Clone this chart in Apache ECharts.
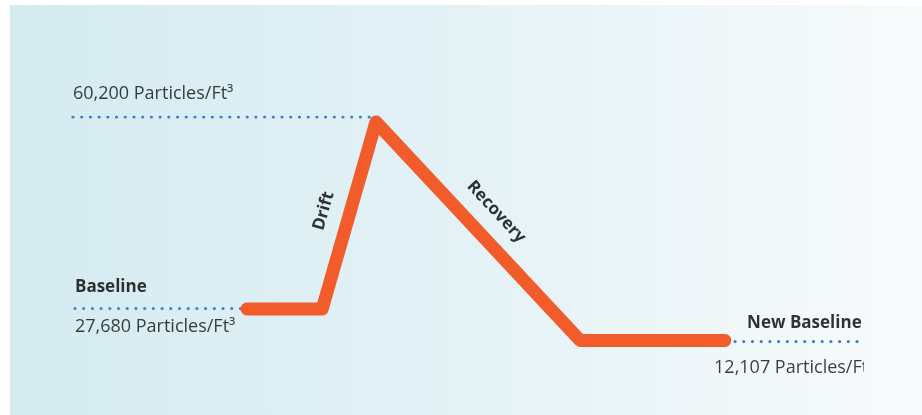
<!DOCTYPE html>
<html>
<head>
<meta charset="utf-8">
<script src="https://cdn.jsdelivr.net/npm/echarts@6/dist/echarts.min.js"></script>
<style>
  html, body { margin: 0; padding: 0; background: #fff; }
  #bg {
    position: absolute; left: 10px; top: 5px; width: 912px; height: 410px;
    background: linear-gradient(to right, #d4ebf0 0%, #e4f2f6 50%, #f8fbfc 100%);
  }
  #main { position: absolute; left: 0; top: 0; width: 864px; height: 415px; }
</style>
</head>
<body>
<div id="bg"></div>
<div id="main"></div>
<script>
// schematic time (0-100) and level (0-100)
const phaseX = [22.0, 31.5, 38.3, 64.1, 82.4];
const phaseLevel = [14.7, 14.7, 97.8, 0.7, 0.7];

const peakLineX = [0, 38.6];
const peakLevel = 100;
const baseLineX = [0.25, 21.2];
const baseLevel = 14.9;
const newBaseLineX = [83.7, 100];
const newBaseLevel = 0.2;

const particleCounts = ['60,200', '27,680', '12,107'];
const unitText = 'Particles/Ft³';
const levelNames = ['Baseline', 'New Baseline'];
const phaseNames = ['Drift', 'Recovery'];
const phaseLabelPos = [[31.7, 58.2], [53.5, 57.8]];

const FONT = 'Open Sans';
const orange = '#f25c2a';
const dotBlue = '#3f80cb';

function dotted(xs, y) {
    return {
        type: 'line',
        data: xs.map(function (x) { return [x, y]; }),
        symbol: 'none',
        z: 1,
        lineStyle: { color: dotBlue, width: 3.2, type: [0.01, 8.7], cap: 'round' }
    };
}

function textItem(x, y, text, opts) {
    return {
        value: [x, y],
        label: Object.assign({
            show: true,
            position: 'inside',
            formatter: text,
            color: '#0d0d0d',
            fontFamily: FONT,
            fontSize: 18,
            align: 'left',
            verticalAlign: 'middle'
        }, opts)
    };
}

const boldText = { fontWeight: 'bold', fontSize: 17, color: '#000' };

const labelData = [
    textItem(peakLineX[0], peakLevel, particleCounts[0] + ' ' + unitText, { offset: [0, -23] }),
    textItem(baseLineX[0], baseLevel, levelNames[0], Object.assign({ offset: [0, -21] }, boldText)),
    textItem(baseLineX[0], baseLevel, particleCounts[1] + ' ' + unitText, { offset: [0, 18] }),
    textItem(newBaseLineX[0], newBaseLevel, levelNames[1], Object.assign({ offset: [12, -18] }, boldText)),
    textItem(newBaseLineX[0], newBaseLevel, particleCounts[2] + ' ' + unitText, { offset: [-21, 26] }),
    textItem(phaseLabelPos[0][0], phaseLabelPos[0][1], phaseNames[0], Object.assign({ align: 'center', rotate: 74 }, boldText)),
    textItem(phaseLabelPos[1][0], phaseLabelPos[1][1], phaseNames[1], Object.assign({ align: 'center', rotate: -47 }, boldText))
];

const chart = echarts.init(document.getElementById('main'));
chart.setOption({
    animation: false,
    backgroundColor: 'transparent',
    grid: { left: 73, right: 0, top: 117, bottom: 73 },
    xAxis: { type: 'value', min: 0, max: 100, show: false },
    yAxis: { type: 'value', min: 0, max: 100, show: false },
    series: [
        dotted(peakLineX, peakLevel),
        dotted(baseLineX, baseLevel),
        dotted(newBaseLineX, newBaseLevel),
        {
            type: 'line',
            data: phaseX.map(function (x, i) { return [x, phaseLevel[i]]; }),
            symbol: 'none',
            z: 3,
            lineStyle: { color: orange, width: 13, cap: 'round', join: 'round' }
        },
        {
            type: 'scatter',
            symbolSize: 1,
            itemStyle: { color: 'transparent' },
            z: 4,
            silent: true,
            data: labelData
        }
    ]
});
</script>
</body>
</html>
